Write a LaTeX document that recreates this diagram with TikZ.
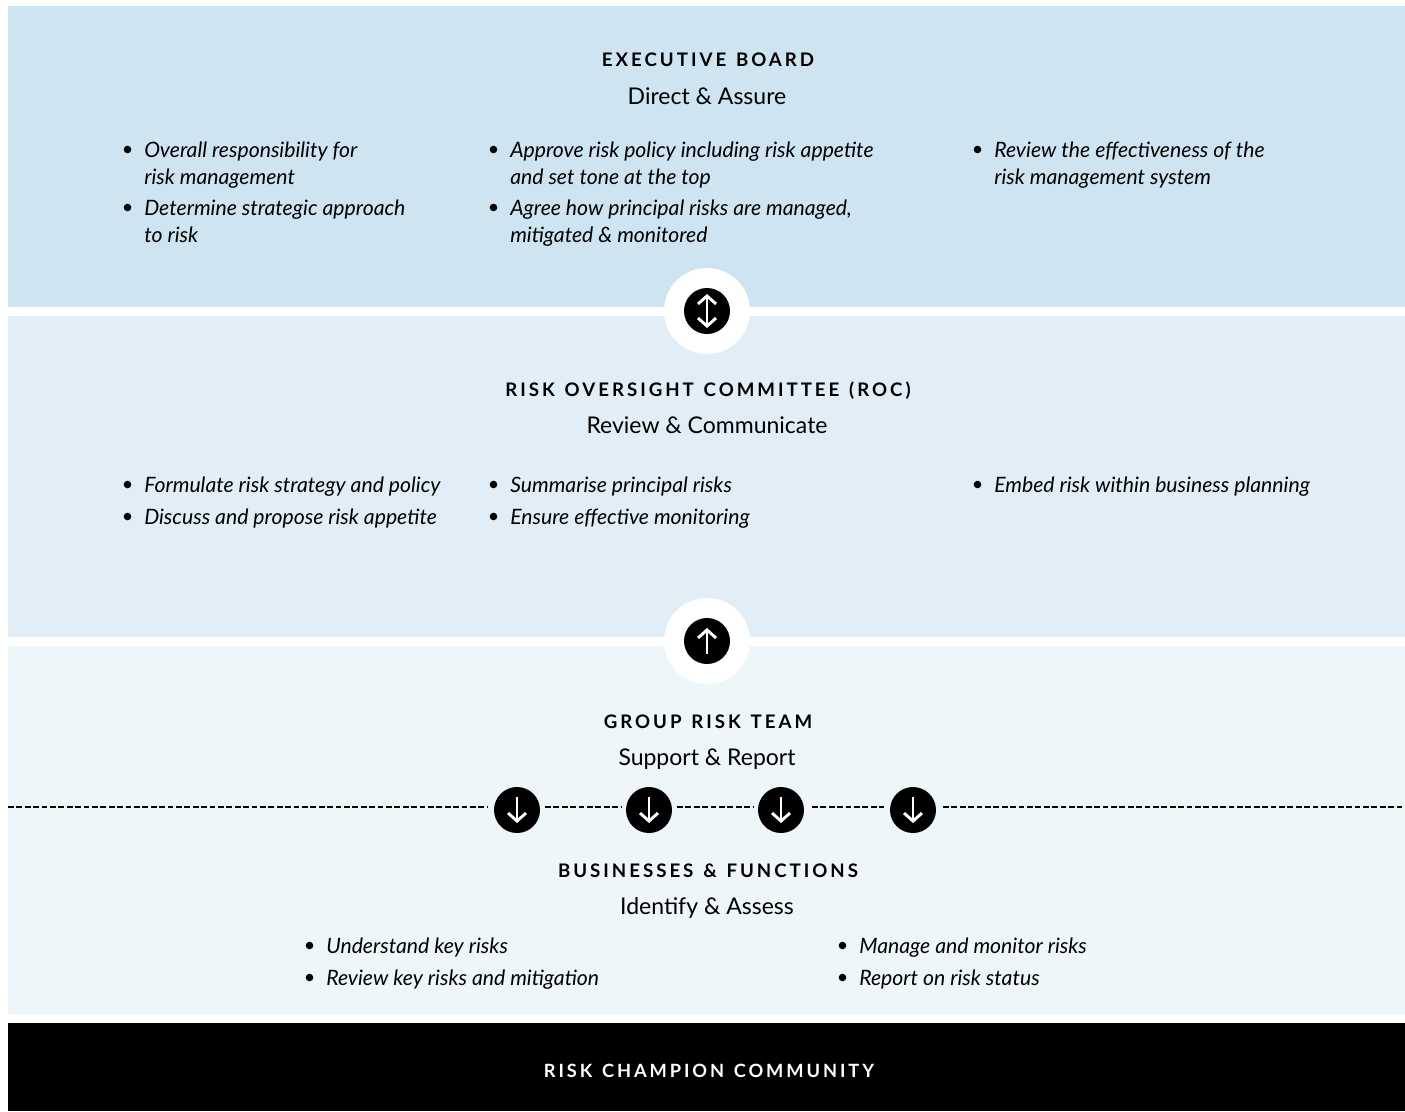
\documentclass[tikz,border=0pt]{standalone}
\usepackage{fontspec}
\setmainfont{Lato}
\newfontfamily\headfam[LetterSpace=16,WordSpace=1.3]{Lato}
\usetikzlibrary{arrows.meta}
\definecolor{bandA}{HTML}{CFE4F1}
\definecolor{bandB}{HTML}{E1EEF7}
\definecolor{bandC}{HTML}{EEF6FA}
\begin{document}
\begin{tikzpicture}[   % px del original
  x=0.75pt,
  y=-0.75pt,
  >={Straight Barb[length=6pt,width=13.5pt,line width=2.2pt]}
]
  \tikzstyle{band}=[anchor=north west, inner sep=0pt, minimum width=1047.75pt];
  \tikzstyle{head}=[anchor=base, font=\fontsize{14}{17}\selectfont\headfam\bfseries];
  \tikzstyle{sub}=[anchor=base, font=\fontsize{17.25}{21}\selectfont];
  \tikzstyle{item}=[anchor=north west, inner sep=0pt, align=left, font=\fontsize{15.9}{20}\selectfont\itshape];
  \tikzstyle{halo}=[circle, fill=white, inner sep=0pt, minimum size=64.5pt];
  \tikzstyle{disc}=[circle, fill=black, inner sep=0pt, outer sep=0pt, minimum size=34.5pt];
  \tikzstyle{tip}=[draw=white, line width=2.2pt, shorten >=7.5pt, shorten <=7.5pt];
  \tikzstyle{rule}=[draw=black, line width=1pt, dash pattern=on 4.4pt off 1.9pt];
  %
  \path[use as bounding box, fill=white] (0,0) rectangle (1405,1111);
  %
  % bandas
  \node[band, fill=bandA, minimum height=225.75pt] (board) at (8,6) {};
  \node[band, fill=bandB, minimum height=240.75pt] (roc) at (8,316) {};
  \node[band, fill=bandC, minimum height=276pt] (group) at (8,646) {};
  \node[band, fill=black, minimum height=66pt] (comm) at (8,1023) {};
  %
  % titulos
  \node[head] (boardT) at (708,66) {EXECUTIVE BOARD};
  \node[sub] (boardS) at (707,104) {Direct \& Assure};
  \node[head] (rocT) at (708,396) {RISK OVERSIGHT COMMITTEE (ROC)};
  \node[sub] (rocS) at (707,433) {Review \& Communicate};
  \node[head] (groupT) at (708,728) {GROUP RISK TEAM};
  \node[sub] (groupS) at (707,765) {Support \& Report};
  \node[head] (busT) at (708,877) {BUSINESSES \& FUNCTIONS};
  \node[sub] (busS) at (707,914) {Identify \& Assess};
  \node[head, text=white, font=\fontsize{13.7}{17}\selectfont\headfam\bfseries] (commT) at (709,1077) {RISK CHAMPION COMMUNITY};
  %
  % listas
  \foreach \n/\x/\y/\t in {
    a1/144/142/{Overall responsibility for\\risk management},
    a2/144/200/{Determine strategic approach\\to risk},
    a3/510/142/{Approve risk policy including risk appetite\\and set tone at the top},
    a4/510/200/{Agree how principal risks are managed,\\mitigated \& monitored},
    a5/994/142/{Review the effectiveness of the\\risk management system},
    b1/144/477/{Formulate risk strategy and policy},
    b2/144/509/{Discuss and propose risk appetite},
    b3/510/477/{Summarise principal risks},
    b4/510/509/{Ensure effective monitoring},
    b5/994/477/{Embed risk within business planning},
    c1/326/938/{Understand key risks},
    c2/326/970/{Review key risks and mitigation},
    c3/859/938/{Manage and monitor risks},
    c4/859/970/{Report on risk status}} {
    \node[item] (\n) at (\x,\y) {\t};
    \fill (\x-16.5,\y+7.5) circle (3.8);
  }
  %
  % circulos de enlace
  \node[halo] (haloA) at (707,311) {};
  \node[disc] (discA) at (707,311) {};
  \draw[tip, <->, shorten >=4.5pt, shorten <=4.5pt] (discA.north) -- (discA.south);
  \node[halo] (haloB) at (707,641) {};
  \node[disc] (discB) at (707,641) {};
  \draw[tip, ->] (discB.south) -- (discB.north);
  %
  % linea de trazos
  \coordinate (d0) at (8,807);
  \coordinate (d9) at (1405,807);
  \foreach \n/\x/\i/\o in {1/517/488/545,2/649/621/677,3/781/753/812,4/913/884/943} {
    \node[disc] (down\n) at (\x,810) {};
    \draw[tip, ->] (down\n.north) -- (down\n.south);
    \coordinate (in\n) at (\i,807);
    \coordinate (out\n) at (\o,807);
  }
  \draw[rule] (d0) -- (in1);
  \draw[rule] (out1) -- (in2);
  \draw[rule] (out2) -- (in3);
  \draw[rule] (out3) -- (in4);
  \draw[rule] (out4) -- (d9);
\end{tikzpicture}
\end{document}
